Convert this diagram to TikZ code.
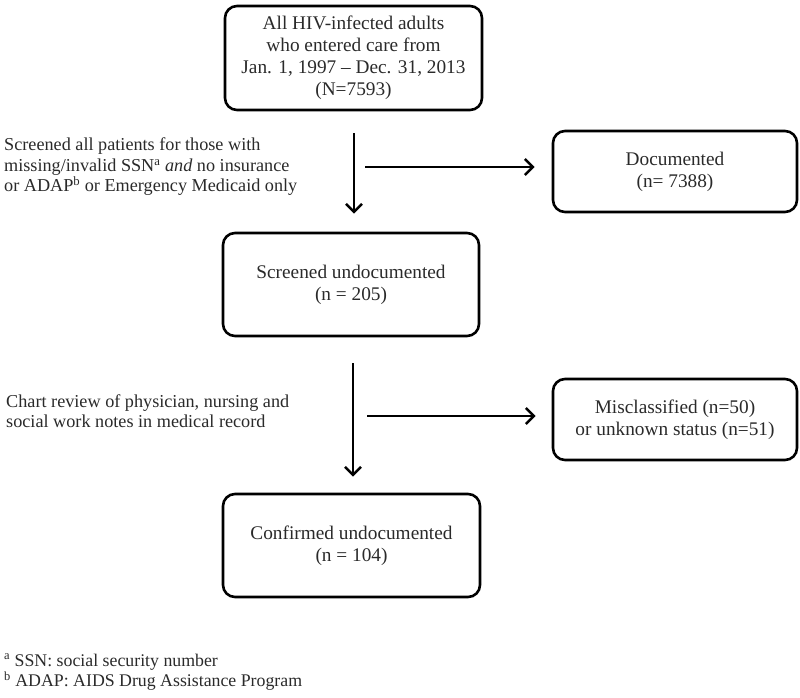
\documentclass[tikz,border=0pt]{standalone}
\usepackage{fontspec}
\setmainfont{Liberation Serif}
\usetikzlibrary{arrows.meta}
\definecolor{txt}{HTML}{2a2a2a}
\begin{document}
\begin{tikzpicture}[x=1pt,y=-1pt,
  box/.style={draw=black, line width=2.6pt, rounded corners=12pt, align=center,
    inner sep=0pt, text=txt, font=\fontsize{19.3}{22}\selectfont},
  arr/.style={line width=2.6pt, -{Straight Barb[length=8pt,width=16pt,line width=2.6pt]}},
  note/.style={align=left, inner sep=0pt, text=txt, font=\fontsize{18.2}{20.5}\selectfont}]
\useasboundingbox (0,0) rectangle (800,697);
\node[box, minimum width=257pt, minimum height=104pt] (b1) at (353.5,58)
  {All HIV-infected adults\\who entered care from\\Jan. 1, 1997 -- Dec. 31, 2013\\(N=7593)};
\node[box, minimum width=244pt, minimum height=81pt] (doc) at (675,171.5)
  {Documented\\(n= 7388)};
\node[box, minimum width=256pt, minimum height=103pt] (b2) at (351,284.5)
  {Screened undocumented\\(n = 205)};
\node[box, minimum width=244pt, minimum height=81pt] (mis) at (675,419.5)
  {Misclassified (n=50)\\or unknown status (n=51)};
\node[box, minimum width=257pt, minimum height=103pt] (b3) at (351.5,545.5)
  {Confirmed undocumented\\(n = 104)};
\coordinate (v1) at (354,0);
\coordinate (v2) at (353,0);
\coordinate (h1) at (365,167);
\coordinate (h2) at (367,416);
\draw[arr, shorten <=22pt, shorten >=18pt] (b1.south -| v1) -- (b2.north -| v1);
\draw[arr, shorten <=26pt, shorten >=16pt] (b2.south -| v2) -- (b3.north -| v2);
\draw[arr, shorten >=17pt] (h1) -- (doc.west |- h1);
\draw[arr, shorten >=16pt] (h2) -- (mis.west |- h2);
\node[note, anchor=west] (t1) at (4,167)
  {Screened all patients for those with\\missing/invalid SSN\textsuperscript{a} \textit{and} no insurance\\or ADAP\textsuperscript{b} or Emergency Medicaid only};
\node[note, anchor=west] (t2) at (6,411)
  {Chart review of physician, nursing and\\social work notes in medical record};
\node[note, anchor=west, font=\fontsize{17.8}{20.5}\selectfont] (t3) at (4,672)
  {\textsuperscript{a} SSN: social security number\\\textsuperscript{b} ADAP: AIDS Drug Assistance Program};
\end{tikzpicture}
\end{document}
